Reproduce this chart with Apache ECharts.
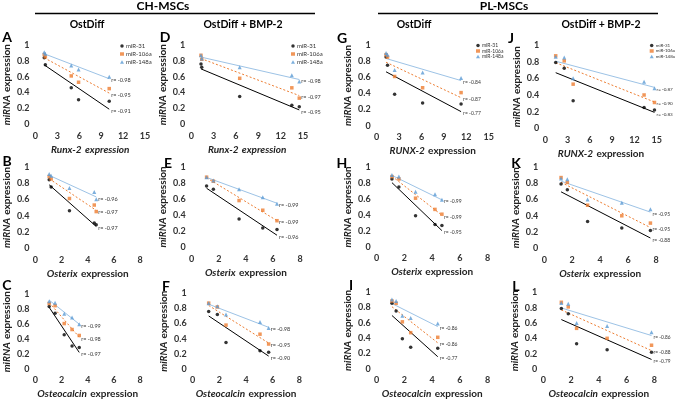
<!DOCTYPE html>
<html><head><meta charset="utf-8">
<script src="https://cdn.jsdelivr.net/npm/echarts@6/dist/echarts.min.js"></script>
<style>html,body{margin:0;padding:0;background:#fff}#c{width:676px;height:401px}</style>
</head><body><div id="c"></div>
<script>
const seriesNames = ['miR-31', 'miR-106a', 'miR-148a'];

// miRNA expression (y) per condition, 5 time points each
const chOst_miR31   = [0.84, 0.75, 0.46, 0.31, 0.29];
const chOst_miR106a = [0.88, 0.85, 0.61, 0.53, 0.45];
const chOst_miR148a = [0.91, 0.89, 0.74, 0.69, 0.60];
const chBmp_miR31   = [0.76, 0.72, 0.35, 0.24, 0.22];
const chBmp_miR106a = [0.87, 0.82, 0.58, 0.46, 0.33];
const chBmp_miR148a = [0.87, 0.83, 0.72, 0.62, 0.54];
const plOst_miR31   = [0.85, 0.75, 0.39, 0.28, 0.27];
const plOst_miR106a = [0.88, 0.85, 0.61, 0.47, 0.41];
const plOst_miR148a = [0.90, 0.88, 0.69, 0.66, 0.59];
const plBmp_miR31   = [0.79, 0.72, 0.33, 0.25, 0.22];
const plBmp_miR106a = [0.87, 0.81, 0.53, 0.40, 0.31];
const plBmp_miR148a = [0.86, 0.85, 0.60, 0.56, 0.48];

// osteogenic marker expression (x) per panel
const xA_runx2       = [1.2, 1.35, 4.9, 5.9, 10.1];
const xB_osterix     = [1.05, 1.2, 2.6, 4.5, 4.65];
const xC_osteocalcin = [1.05, 1.5, 2.2, 2.8, 3.35];
const xD_runx2       = [1.3, 1.4, 6.5, 13.5, 14.5];
const xE_osterix     = [1.1, 1.6, 3.5, 5.25, 6.3];
const xF_osteocalcin = [1.2, 1.85, 2.5, 5.05, 5.7];
const xG_runx2       = [1.25, 1.45, 2.4, 6.15, 11.3];
const xH_osterix     = [1.1, 1.6, 2.8, 4.2, 4.7];
const xI_osteocalcin = [1.1, 1.4, 1.85, 2.45, 4.4];
const xJ_runx2       = [1.4, 2.55, 3.75, 13.3, 14.7];
const xK_osterix     = [1.2, 1.65, 3.1, 5.55, 7.6];
const xL_osteocalcin = [1.3, 1.8, 2.4, 4.6, 7.8];

// correlation coefficients [miR-31, miR-106a, miR-148a]
const rA = ['-0.91', '-0.95', '-0.98'];
const rB = ['-0.97', '-0.97', '-0.96'];
const rC = ['-0.97', '-0.98', '-0.99'];
const rD = ['-0.95', '-0.97', '-0.98'];
const rE = ['-0.96', '-0.99', '-0.99'];
const rF = ['-0.90', '-0.95', '-0.98'];
const rG = ['-0.77', '-0.87', '-0.84'];
const rH = ['-0.95', '-0.99', '-0.99'];
const rI = ['-0.77', '-0.86', '-0.86'];
const rJ = ['-0.83', '-0.90', '-0.87'];
const rK = ['-0.88', '-0.95', '-0.95'];
const rL = ['-0.79', '-0.88', '-0.86'];

const xMaxRunx = 15, xStepRunx = 3;
const xMaxOther = 8, xStepOther = 2;

// ---- layout / style (not data) ----
const FONT = 'Lato';
const markerColor = ['#000000', '#ED7D31', '#5B9BD5'];
const lineColor = ['#000000', '#ED7D31', '#9DC3E6'];
const lineType = ['solid', [2, 2], 'solid'];
const symbols = ['circle', 'rect', 'triangle'];
const symSizes = [3.5, 3.5, 4];

const panels = [
  {x: xA_runx2, ys: [chOst_miR31, chOst_miR106a, chOst_miR148a], r: rA, gene: 'Runx-2', allItalic: true, runx: true, rfs: 5.5, box: [33.3, 45, 111.7, 79.3]},
  {x: xB_osterix, ys: [chOst_miR31, chOst_miR106a, chOst_miR148a], r: rB, gene: 'Osterix', runx: false, rfs: 5.5, box: [33.3, 166.7, 106.7, 81.6]},
  {x: xC_osteocalcin, ys: [chOst_miR31, chOst_miR106a, chOst_miR148a], r: rC, gene: 'Osteocalcin', runx: false, rfs: 5.5, box: [33, 294.5, 107, 79.5]},
  {x: xD_runx2, ys: [chBmp_miR31, chBmp_miR106a, chBmp_miR148a], r: rD, gene: 'Runx-2', allItalic: true, runx: true, rfs: 5.5, box: [191.3, 45, 111.7, 79.3]},
  {x: xE_osterix, ys: [chBmp_miR31, chBmp_miR106a, chBmp_miR148a], r: rE, gene: 'Osterix', runx: false, rfs: 5.5, box: [191.7, 166.7, 108.3, 80.6]},
  {x: xF_osteocalcin, ys: [chBmp_miR31, chBmp_miR106a, chBmp_miR148a], r: rF, gene: 'Osteocalcin', runx: false, rfs: 5.5, box: [192.7, 293.3, 106.6, 79.4]},
  {x: xG_runx2, ys: [plOst_miR31, plOst_miR106a, plOst_miR148a], r: rG, gene: 'RUNX-2', runx: true, rfs: 5, box: [376.7, 45, 112, 80.7]},
  {x: xH_osterix, ys: [plOst_miR31, plOst_miR106a, plOst_miR148a], r: rH, gene: 'Osterix', runx: false, rfs: 5, box: [376.7, 167, 111, 80]},
  {x: xI_osteocalcin, ys: [plOst_miR31, plOst_miR106a, plOst_miR148a], r: rI, gene: 'Osteocalcin', runx: false, rfs: 5, box: [376.7, 291.7, 111, 81]},
  {x: xJ_runx2, ys: [plBmp_miR31, plBmp_miR106a, plBmp_miR148a], r: rJ, gene: 'RUNX-2', runx: true, rfs: 4.6, box: [545.3, 45, 111.4, 83.3]},
  {x: xK_osterix, ys: [plBmp_miR31, plBmp_miR106a, plBmp_miR148a], r: rK, gene: 'Osterix', runx: false, rfs: 5, box: [544.3, 167, 111.7, 81.3]},
  {x: xL_osteocalcin, ys: [plBmp_miR31, plBmp_miR106a, plBmp_miR148a], r: rL, gene: 'Osteocalcin', runx: false, rfs: 4.8, box: [543.3, 292.3, 111, 80.4]}
];

function fit(xs, ys) {
  const n = xs.length;
  const mx = xs.reduce((a, b) => a + b, 0) / n;
  const my = ys.reduce((a, b) => a + b, 0) / n;
  let sxy = 0, sxx = 0;
  for (let i = 0; i < n; i++) { sxy += (xs[i] - mx) * (ys[i] - my); sxx += (xs[i] - mx) ** 2; }
  const b = sxy / sxx, a = my - b * mx;
  const x0 = Math.min(...xs), x1 = Math.max(...xs);
  return [[x0, a + b * x0], [x1, a + b * x1]];
}

const grid = [], xAxis = [], yAxis = [], series = [];
panels.forEach((p, i) => {
  const [l, t, w, h] = p.box;
  grid.push({left: l, top: t, width: w, height: h, containLabel: false});
  const nameRich = {
    i: {fontFamily: FONT, fontStyle: 'italic', fontWeight: 'bold', fontSize: 10, color: '#222'},
    n: {fontFamily: FONT, fontStyle: p.allItalic ? 'italic' : 'normal', fontWeight: 'bold', fontSize: 10, color: '#222'}
  };
  xAxis.push({
    gridIndex: i, type: 'value', min: 0,
    max: p.runx ? xMaxRunx : xMaxOther, interval: p.runx ? xStepRunx : xStepOther,
    name: '{i|' + p.gene + '} {n|expression}', nameLocation: 'middle', nameGap: 19,
    nameTextStyle: {rich: nameRich},
    axisLine: {show: false}, axisTick: {show: false}, splitLine: {show: false},
    axisLabel: {margin: 7, fontFamily: FONT, fontWeight: 'bold', fontSize: 9, color: '#333'}
  });
  yAxis.push({
    gridIndex: i, type: 'value', min: 0, max: 1, interval: 0.2,
    name: '{i|miRNA} {n|expression}', nameLocation: 'middle', nameGap: 20,
    nameTextStyle: {rich: {
      i: {fontFamily: FONT, fontStyle: 'italic', fontWeight: 'bold', fontSize: 10, color: '#222'},
      n: {fontFamily: FONT, fontWeight: 'bold', fontSize: 10, color: '#222'}}},
    axisLine: {show: false}, axisTick: {show: false}, splitLine: {show: false},
    axisLabel: {margin: 6, fontFamily: FONT, fontWeight: 'bold', fontSize: 9, color: '#333'}
  });
  p.ys.forEach((ys, k) => {
    series.push({
      type: 'scatter', name: seriesNames[k], xAxisIndex: i, yAxisIndex: i,
      symbol: symbols[k], symbolSize: symSizes[k],
      itemStyle: {color: markerColor[k]}, z: 3,
      data: p.x.map((xv, j) => [xv, ys[j]])
    });
  });
  p.ys.forEach((ys, k) => {
    series.push({
      type: 'line', name: seriesNames[k] + ' fit', xAxisIndex: i, yAxisIndex: i,
      symbol: 'none', silent: true, z: 2, animation: false,
      lineStyle: {color: lineColor[k], width: 1, type: lineType[k]},
      endLabel: {show: true, formatter: 'r= ' + p.r[k], fontFamily: FONT, fontSize: p.rfs, color: '#333', distance: 2, offset: [0, 2]},
      data: fit(p.x, ys)
    });
  });
});

function legendAt(pos, top, fs, gap) {
  return Object.assign({
    top: top, orient: 'vertical', itemWidth: 4, itemHeight: 3.5, itemGap: gap, padding: 0,
    selectedMode: false, align: 'left',
    textStyle: {fontFamily: FONT, fontSize: fs, color: '#333', padding: [0, 0, 0, -3]},
    data: [{name: 'miR-31', icon: 'circle'}, {name: 'miR-106a', icon: 'rect'}, {name: 'miR-148a', icon: 'triangle'}]
  }, pos);
}

function txt(x, y, s, fs, extra) {
  return Object.assign({type: 'text', x: x, y: y, style: {text: s, fontFamily: FONT, fontWeight: 'bold', fontSize: fs, fill: '#000', align: 'center', verticalAlign: 'middle'}}, extra || {});
}

const graphic = [
  txt(163, 6, 'CH-MSCs', 12),
  txt(504, 6, 'PL-MSCs', 12),
  {type: 'line', shape: {x1: 35, y1: 13.5, x2: 315, y2: 13.5}, style: {stroke: '#000', lineWidth: 1.5}},
  {type: 'line', shape: {x1: 378, y1: 13.5, x2: 658, y2: 13.5}, style: {stroke: '#000', lineWidth: 1.5}},
  txt(87, 25, 'OstDiff', 10.5),
  txt(243, 25, 'OstDiff + BMP-2', 10.5),
  txt(414, 25, 'OstDiff', 10.5),
  txt(601, 25, 'OstDiff + BMP-2', 10.5),
  txt(7, 37, 'A', 14), txt(165, 37, 'D', 14), txt(342, 38, 'G', 14), txt(511, 38, 'J', 14),
  txt(7, 161, 'B', 14), txt(168, 163, 'E', 14), txt(342, 163, 'H', 14), txt(516, 163, 'K', 14),
  txt(7, 285, 'C', 14), txt(166, 286, 'F', 14), txt(351, 285, 'I', 14), txt(516, 286, 'L', 14)
];

const chart = echarts.init(document.getElementById('c'), null, {renderer: 'canvas'});
chart.setOption({
  animation: false,
  backgroundColor: '#fff',
  grid: grid, xAxis: xAxis, yAxis: yAxis, series: series,
  legend: [
    legendAt({left: 120}, 43, 6, 2),
    legendAt({left: 291}, 43, 6, 2),
    legendAt({left: 476}, 43, 5, 0.5),
    legendAt({right: 1}, 43, 4.5, 0.5)
  ],
  graphic: graphic
});
</script>
</body></html>
